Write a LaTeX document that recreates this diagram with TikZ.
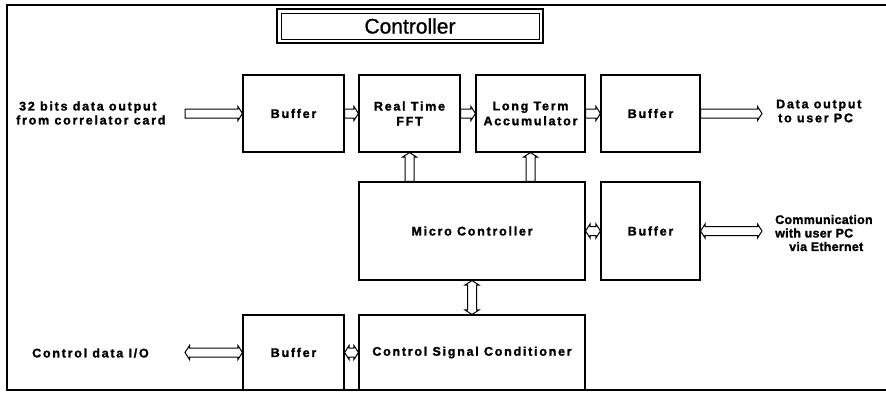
\documentclass[tikz,border=0pt]{standalone}
\usepackage{fontspec}
\setmainfont{Liberation Sans}
\newfontfamily\lblfont[LetterSpace=14, BoldFeatures={FakeBold=1.5}]{Liberation Sans}
\newfontfamily\comfont[LetterSpace=2, BoldFeatures={FakeBold=1.5}]{Liberation Sans}
\newfontfamily\titlefont[FakeBold=1]{Liberation Sans}
\usetikzlibrary{calc}
\tikzset{
  box/.style={draw, line width=1.1pt, inner sep=0pt, font=\lblfont\bfseries\fontsize{12.5}{15}\selectfont, align=center},
  lbl/.style={inner sep=0pt, font=\lblfont\bfseries\fontsize{12.5}{14}\selectfont, align=left},
  busline/.style={draw, line width=1pt, fill=white, line join=miter},
}
% hollow bus arrow: #1 start, #2 end (head at end)
\newcommand\busarrow[2]{%
  \coordinate (bA) at (#1);
  \coordinate (bB) at (#2);
  \coordinate (bC) at ($(bB)!4.5pt!(bA)$);
  \path[busline] ($(bA)!4.5pt!90:(bB)$) -- ($(bC)!4.5pt!-90:(bA)$) -- ($(bC)!7pt!-90:(bA)$) -- (bB)
     -- ($(bC)!7pt!90:(bA)$) -- ($(bC)!4.5pt!90:(bA)$) -- ($(bA)!4.5pt!-90:(bB)$) -- cycle;
}
% hollow double-headed bus arrow
\newcommand\bibusarrow[2]{%
  \coordinate (bA) at (#1);
  \coordinate (bB) at (#2);
  \coordinate (bC) at ($(bA)!4.5pt!(bB)$);
  \coordinate (bD) at ($(bB)!4.5pt!(bA)$);
  \path[busline] (bA) -- ($(bC)!7pt!90:(bB)$) -- ($(bC)!4.5pt!90:(bB)$) -- ($(bD)!4.5pt!-90:(bA)$)
     -- ($(bD)!7pt!-90:(bA)$) -- (bB) -- ($(bD)!7pt!90:(bA)$) -- ($(bD)!4.5pt!90:(bA)$)
     -- ($(bC)!4.5pt!-90:(bB)$) -- ($(bC)!7pt!-90:(bB)$) -- cycle;
}
\begin{document}
\begin{tikzpicture}[x=1pt,y=-1pt]
\useasboundingbox (0,0) rectangle (886,392);
% frame
\draw[line width=1.2pt] (886,5) -- (7,5) -- (7,390) -- (886,390);
% title
\node[draw, line width=2.6pt, minimum width=266pt, minimum height=34pt, inner sep=0pt] (title) at (410,26) {};
\node[draw, line width=0.6pt, minimum width=258pt, minimum height=26pt, inner sep=0pt, font=\titlefont\fontsize{21}{24}\selectfont] (titletext) at (title.center) {Controller};
% boxes
\node[box, minimum width=101pt, minimum height=77pt] (b1) at (293.5,113.5) {Buffer};
\node[box, minimum width=101pt, minimum height=77pt] (fft) at (409.5,113.5) {Real Time\\FFT};
\node[box, minimum width=109pt, minimum height=77pt] (lta) at (530.5,113.5) {Long Term\\Accumulator};
\node[box, minimum width=99pt, minimum height=77pt] (b2) at (650.5,113.5) {Buffer};
\node[box, minimum width=226pt, minimum height=98pt] (mc) at (472,231) {Micro Controller};
\node[box, minimum width=99pt, minimum height=98pt] (b3) at (650.5,231) {Buffer};
\node[box, minimum width=101pt, minimum height=75pt] (b4) at (293.5,352.5) {Buffer};
\node[box, minimum width=226pt, minimum height=75pt] (csc) at (472,352.5) {Control Signal Conditioner};
% labels
\node[lbl, anchor=west] (inlbl) at (16,113) {\hspace*{3pt}32 bits data output\\from correlator card};
\node[lbl, anchor=west] (outlbl) at (776,111) {Data output\\\hspace*{2pt}to user PC};
\node[lbl, anchor=west, font=\comfont\bfseries\fontsize{12.5}{13.5}\selectfont] (comlbl) at (775,233) {Communication\\with user PC\\\hspace*{14pt}via Ethernet};
\node[lbl, anchor=west] (iolbl) at (32,353) {Control data I/O};
% free ends
\coordinate (inA) at (185,113.5);
\coordinate (outA) at (762,113.5);
\coordinate (comA) at (762,231);
\coordinate (ioA) at (185,352.5);
% connectors
\busarrow{inA}{b1.west}
\busarrow{b1.east}{fft.west}
\busarrow{fft.east}{lta.west}
\busarrow{lta.east}{b2.west}
\busarrow{b2.east}{outA}
\busarrow{fft.south |- mc.north}{fft.south}
\busarrow{lta.south |- mc.north}{lta.south}
\bibusarrow{mc.east}{b3.west}
\bibusarrow{b3.east}{comA}
\bibusarrow{mc.south}{csc.north}
\bibusarrow{ioA}{b4.west}
\bibusarrow{b4.east}{csc.west}
\end{tikzpicture}
\end{document}
